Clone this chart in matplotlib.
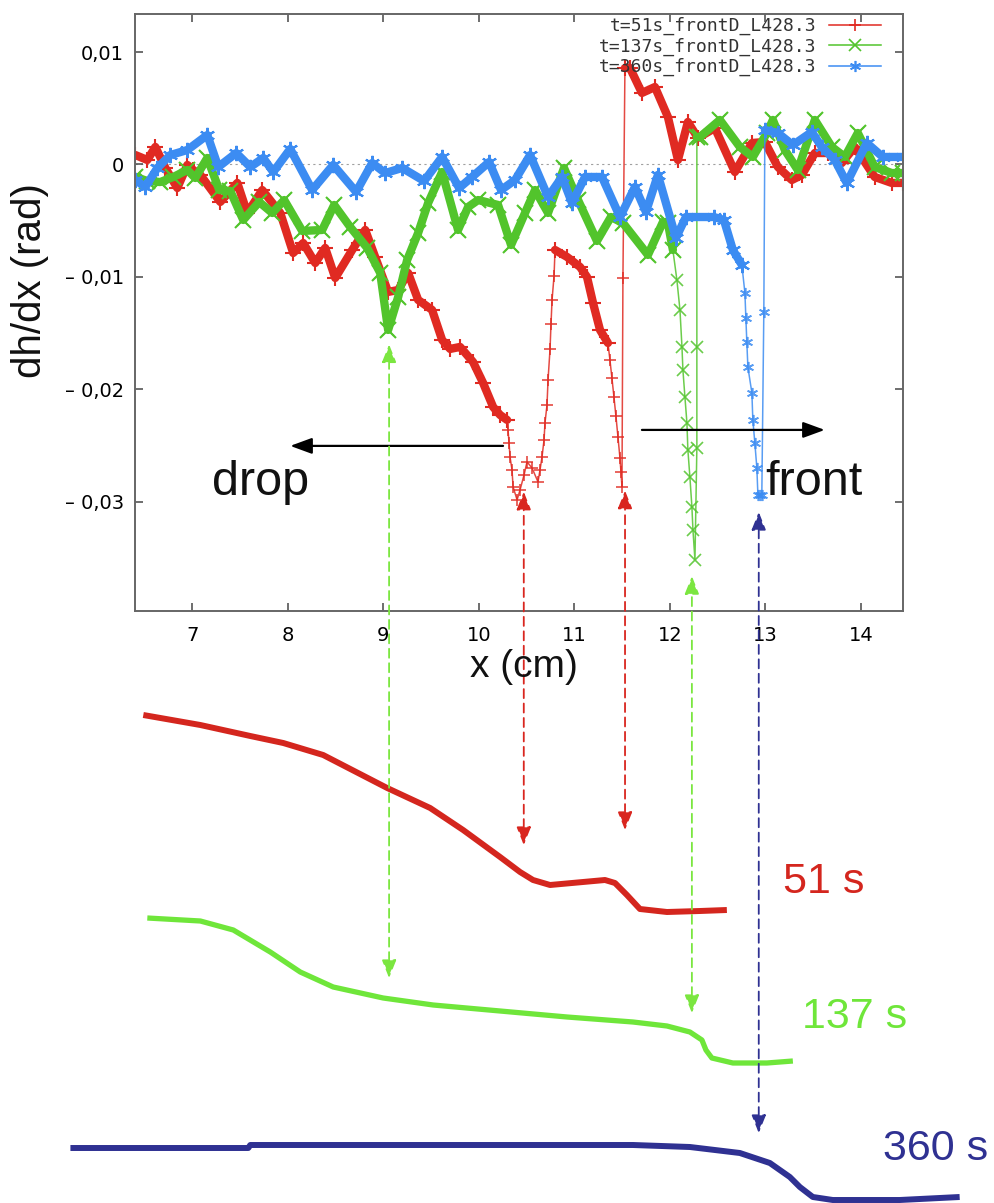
import numpy as np
import matplotlib
matplotlib.use("Agg")
import matplotlib.pyplot as plt
from matplotlib.lines import Line2D

# ---------------- data: slope profiles dh/dx (mrad) vs x (cm) ----------------
x_51 = [6.404, 6.529, 6.613, 6.718, 6.843, 6.948, 7.010, 7.084, 7.293, 7.471, 7.575, 7.732,
        7.921, 8.056, 8.161, 8.287, 8.391, 8.496, 8.674, 8.810, 8.914, 9.050, 9.155, 9.259,
        9.364, 9.510, 9.615, 9.699, 9.803, 9.939, 10.044, 10.149, 10.222, 10.295,
        10.305, 10.316, 10.326, 10.347, 10.358, 10.400, 10.431, 10.473, 10.504, 10.556,
        10.619, 10.640, 10.661, 10.682, 10.692, 10.713, 10.724, 10.745, 10.755, 10.766,
        10.787, 10.797,
        10.923, 11.059, 11.132, 11.195, 11.268, 11.351,
        11.372, 11.393, 11.414, 11.435, 11.456, 11.477, 11.487, 11.498, 11.508, 11.529,
        11.582, 11.707, 11.843, 11.979, 12.084, 12.188, 12.293, 12.471, 12.680, 12.858,
        12.994, 13.130, 13.276, 13.381, 13.517, 13.653, 13.799, 13.935, 14.144, 14.322, 14.437]
s_51 = [0.84, 0.40, 1.56, -0.31, -2.09, -0.04, -0.49, -0.93, -3.33, -1.64, -4.31, -2.27,
        -4.31, -7.87, -6.98, -8.76, -7.42, -10.09, -7.60, -5.82, -8.22, -11.33, -11.16, -9.64,
        -12.04, -12.93, -15.6, -16.4, -16.22, -17.56, -19.42, -21.56, -22.27, -22.71,
        -23.6, -24.76, -26.0, -27.16, -28.67, -29.82, -28.93, -27.6, -26.44, -26.98,
        -28.22, -27.16, -26.0, -24.5, -22.98, -21.4, -19.16, -16.4, -14.2, -12.04,
        -9.9, -7.60,
        -8.22, -9.11, -10.0, -12.31, -14.71, -15.87,
        -17.38, -19.0, -20.67, -22.4, -24.22, -26.1, -27.3, -28.67, -10.09, 8.58,
        8.58, 6.36, 6.89, 4.22, 0.40, 3.78, 2.36, 3.24, -0.67, 1.91,
        2.00, -0.22, -1.38, -0.93, 1.02, 1.02, 0.13, 1.56, -1.11, -1.64, -1.64]

x_137 = [6.404, 6.529, 6.665, 6.801, 6.948, 7.031, 7.157, 7.282, 7.398, 7.533, 7.700, 7.837,
         7.962, 8.151, 8.360, 8.485, 8.653, 8.831, 8.967, 9.050, 9.155, 9.249, 9.364, 9.469,
         9.615, 9.782, 9.887, 9.992, 10.201, 10.337, 10.483, 10.588, 10.724, 10.891, 11.038,
         11.236, 11.382, 11.508, 11.770, 11.927, 11.979, 12.031,
         12.073, 12.105, 12.126, 12.136, 12.157, 12.178, 12.188, 12.209, 12.230, 12.241,
         12.262, 12.282, 12.282, 12.282,
         12.314, 12.523, 12.732, 12.868, 13.015, 13.078, 13.203, 13.339, 13.517, 13.695,
         13.831, 13.967, 14.144, 14.322, 14.437]
s_137 = [-1.11, -1.47, -1.56, -1.11, -0.49, -1.2, 0.58, -2.27, -2.36, -4.93, -3.33, -4.31,
         -3.16, -5.91, -5.82, -3.6, -5.56, -7.42, -9.64, -14.71, -11.78, -8.49, -6.09, -3.42,
         -0.67, -5.82, -3.78, -3.16, -3.6, -7.16, -4.31, -2.27, -4.31, -0.31, -3.16,
         -6.80, -4.67, -5.20, -8.04, -5.11, -5.20, -7.6,
         -10.27, -12.93, -16.22, -18.27, -20.67, -22.98, -25.38, -27.78, -30.44, -32.49,
         -35.16, -25.2, -16.22, 2.44,
         2.44, 3.96, 1.56, 0.67, 2.80, 3.96, 1.29, -0.49, 3.96, 1.56,
         0.67, 2.80, -0.22, -0.76, -0.76]

x_360 = [6.404, 6.508, 6.634, 6.770, 6.948, 7.157, 7.272, 7.460, 7.607, 7.743, 7.847, 8.025,
         8.255, 8.475, 8.715, 8.883, 9.019, 9.197, 9.427, 9.615, 9.793, 9.929, 10.107, 10.232,
         10.379, 10.536, 10.724, 10.870, 10.975, 11.111, 11.289, 11.477, 11.634, 11.749,
         11.874, 12.063, 12.167, 12.460, 12.565, 12.659, 12.753,
         12.785, 12.795, 12.805, 12.816, 12.858, 12.868, 12.889, 12.910, 12.921, 12.941,
         12.962, 12.983, 12.994,
         13.130, 13.287, 13.485, 13.590, 13.726, 13.851, 14.061, 14.228, 14.437]
s_360 = [-1.38, -2.00, -0.31, 0.84, 1.29, 2.62, -0.22, 1.02, -0.22, 0.58, -0.67, 1.38,
         -2.27, -0.04, -2.44, 0.13, -0.76, -0.31, -1.47, 0.67, -2.09, -1.11, 0.22, -2.27,
         -1.38, 0.84, -2.89, -1.11, -3.42, -1.11, -1.11, -4.67, -2.00, -4.22,
         -0.93, -6.53, -4.67, -4.67, -4.93, -7.60, -8.93,
         -11.42, -13.64, -15.78, -18.0, -20.31, -22.71, -24.76, -26.98, -29.38, -29.38,
         -29.38, -13.11, 3.07,
         2.80, 1.73, 2.89, 1.56, 0.40, -1.64, 1.91, 0.67, 0.67]

series_labels = ["t=51s_frontD_L428.3", "t=137s_frontD_L428.3", "t=360s_frontD_L428.3"]

# ---------------- data: height profiles (arbitrary units) ----------------
px_51 = [6.487, 7.084, 7.607, 7.952, 8.370, 9.040, 9.490, 9.835, 10.222, 10.431, 10.567,
         10.745, 11.090, 11.320, 11.425, 11.550, 11.686, 11.969, 12.314, 12.596]
ph_51 = [4.88, 4.78, 4.67, 4.60, 4.48, 4.15, 3.95, 3.73, 3.46, 3.31, 3.23,
         3.18, 3.21, 3.23, 3.20, 3.08, 2.94, 2.91, 2.92, 2.93]
px_137 = [6.529, 7.084, 7.429, 7.816, 8.130, 8.475, 8.998, 9.521, 10.222, 10.923, 11.613,
          11.969, 12.209, 12.335, 12.377, 12.439, 12.659, 13.015, 13.287]
ph_137 = [2.85, 2.82, 2.73, 2.51, 2.31, 2.16, 2.05, 1.98, 1.92, 1.86, 1.81,
          1.77, 1.71, 1.63, 1.53, 1.45, 1.40, 1.40, 1.42]
px_360 = [5.724, 7.586, 7.607, 10.222, 11.613, 12.209, 12.732, 13.046, 13.255, 13.360,
          13.496, 13.705, 14.406, 14.824, 15.033]
ph_360 = [0.55, 0.55, 0.58, 0.58, 0.58, 0.56, 0.50, 0.40, 0.26, 0.16,
          0.06, 0.03, 0.03, 0.05, 0.06]
profile_labels = ["51 s", "137 s", "360 s"]
profile_label_pos = [(13.18, 3.10), (13.38, 1.75), (14.23, 0.43)]

# ---------------- data: correspondence arrows ----------------
arrow_x = [9.06, 10.47, 11.53, 12.23, 12.93]
arrow_top = [-0.0160, -0.0291, -0.0290, -0.0366, -0.0309]   # dh/dx (rad)
arrow_bottom = [2.25, 3.58, 3.73, 1.90, 0.70]               # profile units
arrow_colors = ["#7be640", "#d9261f", "#d9261f", "#7be640", "#2f3192"]

x_ticks = [7, 8, 9, 10, 11, 12, 13, 14]
y_ticks = [0.01, 0.0, -0.01, -0.02, -0.03]
y_tick_labels = ["0,01", "0", "\u2013 0,01", "\u2013 0,02", "\u2013 0,03"]

# ---------------- figure ----------------
W, H = 995, 1203
fig = plt.figure(figsize=(W / 100, H / 100), dpi=100)
L, R, T, B = 135, 903, 14, 611
ax = fig.add_axes([L / W, (H - B) / H, (R - L) / W, (B - T) / H])
xlim = (6.40, 14.44)
ax.set_xlim(*xlim)
ax.set_ylim(-0.0397, 0.01338)

ax.axhline(0, color="#a0a0a0", lw=0.8, ls=(0, (2, 3)), zorder=1)

c_red, c_green, c_blue = "#e02a22", "#52c42c", "#3c8cf2"
asterisk = (6, 2, 0)
styles = [
    (x_51, s_51, c_red, "+", [(0, 34), (55, 62), (71, None)]),
    (x_137, s_137, c_green, "x", [(0, 42), (55, None)]),
    (x_360, s_360, c_blue, asterisk, [(0, 41), (53, None)]),
]
handles = []
for (xs, ss, col, mk, dense), lab in zip(styles, series_labels):
    xs = np.asarray(xs)
    ys = np.asarray(ss) * 1e-3
    ax.plot(xs, ys, color=col, lw=1.1, alpha=0.85, marker=mk, ms=8, mew=1.2, zorder=2)
    for a, b in dense:
        ax.plot(xs[a:b], ys[a:b], color=col, lw=6, solid_joinstyle="round",
                solid_capstyle="round", zorder=2)
        ax.plot(xs[a:b], ys[a:b], ls="none", marker=mk, ms=11, mew=1.5, color=col, zorder=2)
    handles.append(Line2D([], [], color=col, lw=1.1, marker=mk, ms=8, mew=1.2, label=lab))

leg = ax.legend(handles=handles, loc="upper right", bbox_to_anchor=(0.972, 0.995),
                frameon=False, markerfirst=False, numpoints=1, borderpad=0,
                borderaxespad=0, handlelength=2.9, handletextpad=0.7, labelspacing=0.12,
                prop={"family": "DejaVu Sans Mono", "size": 13})
for t in leg.get_texts():
    t.set_color("#333333")

ax.set_xticks(x_ticks)
ax.set_xticklabels([str(v) for v in x_ticks])
ax.set_yticks(y_ticks)
ax.set_yticklabels(y_tick_labels)
ax.tick_params(direction="in", top=True, right=True, length=6, width=1.2,
               color="#555555", labelsize=14, labelcolor="black")
ax.tick_params(axis="x", pad=11)
ax.tick_params(axis="y", pad=8)
for sp in ax.spines.values():
    sp.set_color("#666666")
    sp.set_linewidth(1.4)

# drop / front annotations
hd = dict(arrowstyle="-|>,head_length=0.6,head_width=0.22", color="black", lw=1.6,
          shrinkA=0, shrinkB=0, mutation_scale=22)
ax.annotate("", xy=(8.025, -0.02502), xytext=(10.253, -0.02502), arrowprops=hd)
ax.annotate("", xy=(13.621, -0.0236), xytext=(11.707, -0.0236), arrowprops=hd)
ax.text(7.209, -0.02938, "drop", fontsize=35, family="Liberation Sans", ha="left",
        va="baseline", color="#111111")
ax.text(12.994, -0.02938, "front", fontsize=35, family="Liberation Sans", ha="left",
        va="baseline", color="#111111")

fig.text(30 / W, 1 - 281 / H, "dh/dx (rad)", rotation=90, ha="center", va="center",
         fontsize=29, family="Liberation Sans", color="#111111")
fig.text(524 / W, 1 - 667 / H, "x (cm)", ha="center", va="center",
         fontsize=28, family="Liberation Sans", color="#111111")

# ---------------- overlay for height profiles & arrows ----------------
ov = fig.add_axes([0, 0, 1, 1])
scale = (xlim[1] - xlim[0]) / (R - L)
ov.set_xlim(xlim[0] - L * scale, xlim[1] + (W - R) * scale)
ov.set_ylim(0, H / 100)
ov.axis("off")

prof_cols = ["#d4261e", "#6fe63a", "#2f3192"]
prof_lw = [4.3, 3.8, 4.3]
for (xs, hs), col, lw in zip([(px_51, ph_51), (px_137, ph_137), (px_360, ph_360)],
                             prof_cols, prof_lw):
    ov.plot(xs, hs, color=col, lw=lw, solid_capstyle="butt", solid_joinstyle="round")
for lab, (lx, ly), col in zip(profile_labels, profile_label_pos, prof_cols):
    ov.text(lx, ly, lab, color=col, fontsize=31, family="Liberation Sans",
            ha="left", va="baseline")

inv = ov.transData.inverted()
for xa, yt, yb, col in zip(arrow_x, arrow_top, arrow_bottom, arrow_colors):
    _, ht = inv.transform(ax.transData.transform((xa, yt)))
    ov.annotate("", xy=(xa, ht), xytext=(xa, yb),
                arrowprops=dict(arrowstyle="<|-|>,head_length=0.55,head_width=0.22",
                                color=col, lw=1.3, ls=(0, (5, 3)), shrinkA=0, shrinkB=0,
                                mutation_scale=20))

fig.savefig("out.png", dpi=100)
